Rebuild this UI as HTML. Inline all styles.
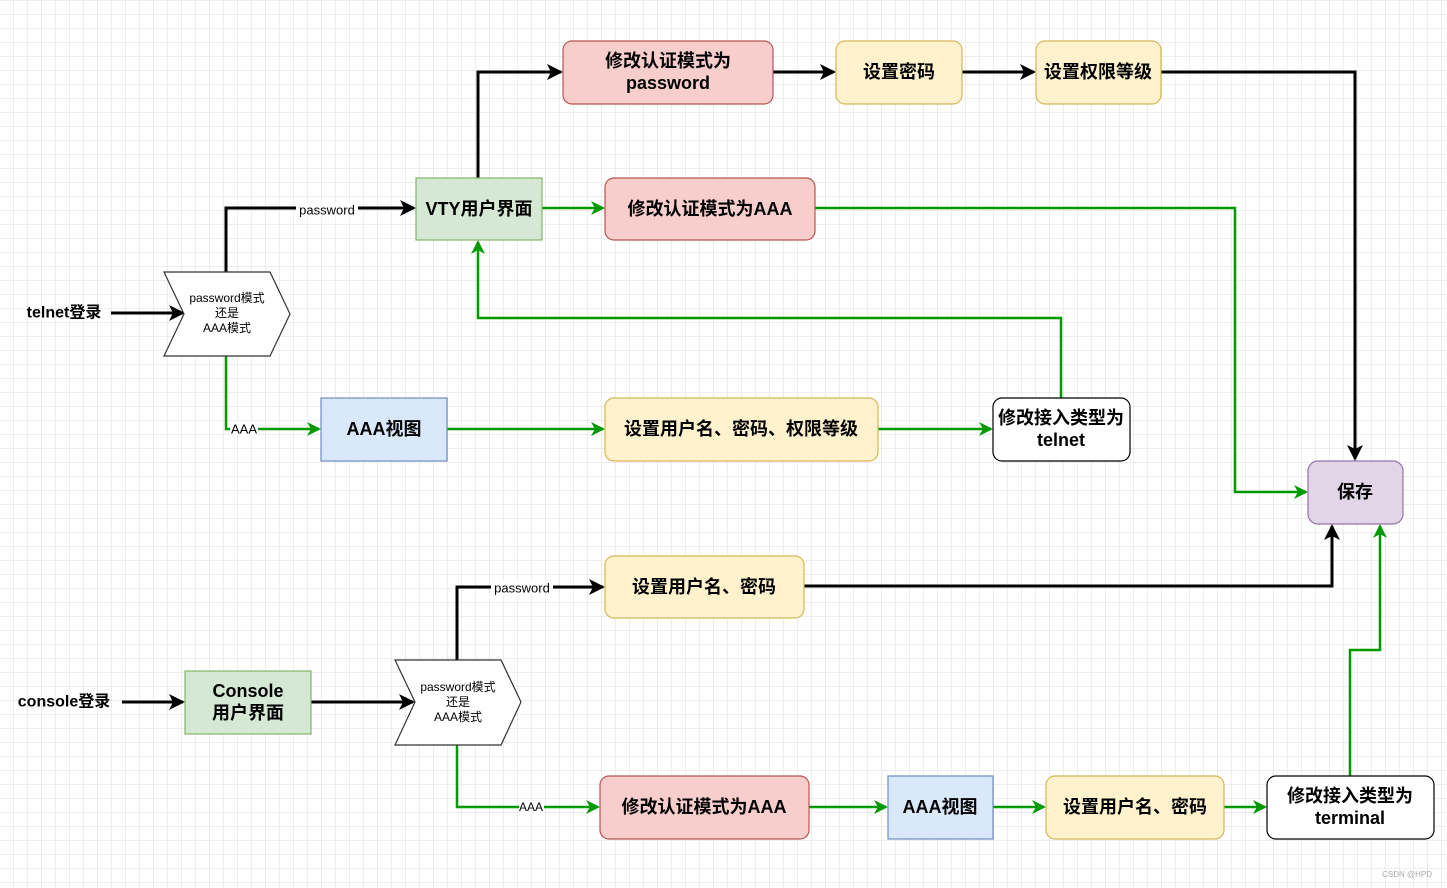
<!DOCTYPE html>
<html><head><meta charset="utf-8"><style>
body{margin:0;background:#fff}
svg{display:block}
text{font-family:"Liberation Sans","Noto Sans CJK SC",sans-serif}
.b{font-size:18px;font-weight:bold;text-anchor:middle;dominant-baseline:central}
.s{font-size:12px;text-anchor:middle;dominant-baseline:central}
.l{font-size:13px;text-anchor:middle;dominant-baseline:central}
</style></head><body>
<svg width="1447" height="888" xmlns="http://www.w3.org/2000/svg">
<defs>
<pattern id="g" width="14" height="14" patternUnits="userSpaceOnUse" x="0" y="1">
<path d="M14 0V14M0 14H14" fill="none" stroke="#dedede" stroke-width="1"/></pattern>
<marker id="ak" markerWidth="16" markerHeight="16" refX="14" refY="8" orient="auto" markerUnits="userSpaceOnUse"><path d="M0,0 L16,8 L0,16 L4,8z" fill="#000"/></marker>
<marker id="ag" markerWidth="14" markerHeight="14" refX="12" refY="7" orient="auto" markerUnits="userSpaceOnUse"><path d="M0,0 L14,7 L0,14 L4,7z" fill="#009900"/></marker>
</defs>
<rect width="1447" height="888" fill="url(#g)"/>
<g fill="none" stroke-width="3" stroke="#000">
<path d="M111 313H183" marker-end="url(#ak)"/>
<path d="M226 272V208H414" marker-end="url(#ak)"/>
<path d="M478 178V72H561" marker-end="url(#ak)"/>
<path d="M773 72H834" marker-end="url(#ak)"/>
<path d="M962 72H1034" marker-end="url(#ak)"/>
<path d="M1161 72H1355V459" marker-end="url(#ak)"/>
<path d="M804 586H1332V526" marker-end="url(#ak)"/>
<path d="M122 702H183" marker-end="url(#ak)"/>
<path d="M311 702H413" marker-end="url(#ak)"/>
<path d="M457 660V587H603" marker-end="url(#ak)"/>
</g>
<g fill="none" stroke-width="2.5" stroke="#009900">
<path d="M226 356V429H319" marker-end="url(#ag)"/>
<path d="M542 208H603" marker-end="url(#ag)"/>
<path d="M815 208H1235V492H1306" marker-end="url(#ag)"/>
<path d="M447 429H603" marker-end="url(#ag)"/>
<path d="M878 429H991" marker-end="url(#ag)"/>
<path d="M1061 398V318H478V242" marker-end="url(#ag)"/>
<path d="M457 745V807H598" marker-end="url(#ag)"/>
<path d="M809 807H886" marker-end="url(#ag)"/>
<path d="M993 807H1044" marker-end="url(#ag)"/>
<path d="M1224 807H1265" marker-end="url(#ag)"/>
<path d="M1350 776V650H1380V526" marker-end="url(#ag)"/>
</g>
<rect x="296" y="203" width="62" height="14" fill="#fff"/><text class="l" x="327" y="210">password</text>
<rect x="230" y="422" width="28" height="14" fill="#fff"/><text class="l" x="244" y="429">AAA</text>
<rect x="491" y="581" width="62" height="14" fill="#fff"/><text class="l" x="522" y="588">password</text>
<rect x="519" y="801" width="25" height="13" fill="#fff"/><text class="s" x="531" y="807">AAA</text>
<text class="b" x="64" y="313" style="font-size:16px">telnet登录</text>
<text class="b" x="64" y="702" style="font-size:16px">console登录</text>
<g stroke-width="1.2">
<rect x="563" y="41" width="210" height="63" rx="9" fill="#f8cecc" stroke="#b85450"/>
<rect x="836" y="41" width="126" height="63" rx="9" fill="#fff2cc" stroke="#d6b656"/>
<rect x="1036" y="41" width="125" height="63" rx="9" fill="#fff2cc" stroke="#d6b656"/>
<rect x="416" y="178" width="126" height="62" fill="#d5e8d4" stroke="#82b366"/>
<rect x="605" y="178" width="210" height="62" rx="9" fill="#f8cecc" stroke="#b85450"/>
<polygon points="164,272 270,272 290,314 270,356 164,356 184,314" fill="#fff" stroke="#333"/>
<rect x="321" y="398" width="126" height="63" fill="#dae8fc" stroke="#6c8ebf"/>
<rect x="605" y="398" width="273" height="63" rx="9" fill="#fff2cc" stroke="#d6b656"/>
<rect x="993" y="398" width="137" height="63" rx="9" fill="#fff" stroke="#000"/>
<rect x="1308" y="461" width="95" height="63" rx="10" fill="#e1d5e7" stroke="#9673a6"/>
<rect x="605" y="556" width="199" height="62" rx="9" fill="#fff2cc" stroke="#d6b656"/>
<rect x="185" y="671" width="126" height="63" fill="#d5e8d4" stroke="#82b366"/>
<polygon points="395,660 501,660 521,702 501,745 395,745 415,702" fill="#fff" stroke="#333"/>
<rect x="600" y="776" width="209" height="63" rx="9" fill="#f8cecc" stroke="#b85450"/>
<rect x="888" y="776" width="105" height="63" fill="#dae8fc" stroke="#6c8ebf"/>
<rect x="1046" y="776" width="178" height="63" rx="9" fill="#fff2cc" stroke="#d6b656"/>
<rect x="1267" y="776" width="167" height="63" rx="9" fill="#fff" stroke="#000"/>
</g>
<text class="b" x="668" y="61">修改认证模式为</text><text class="b" x="668" y="83">password</text>
<text class="b" x="899" y="72">设置密码</text>
<text class="b" x="1098" y="72">设置权限等级</text>
<text class="b" x="479" y="209">VTY用户界面</text>
<text class="b" x="710" y="209">修改认证模式为AAA</text>
<text class="s" x="227" y="298">password模式</text><text class="s" x="227" y="313">还是</text><text class="s" x="227" y="328">AAA模式</text>
<text class="b" x="384" y="429">AAA视图</text>
<text class="b" x="741" y="429">设置用户名、密码、权限等级</text>
<text class="b" x="1061" y="418">修改接入类型为</text><text class="b" x="1061" y="440">telnet</text>
<text class="b" x="1355" y="492">保存</text>
<text class="b" x="704" y="587">设置用户名、密码</text>
<text class="b" x="248" y="691">Console</text><text class="b" x="248" y="713">用户界面</text>
<text class="s" x="458" y="687">password模式</text><text class="s" x="458" y="702">还是</text><text class="s" x="458" y="717">AAA模式</text>
<text class="b" x="704" y="807">修改认证模式为AAA</text>
<text class="b" x="940" y="807">AAA视图</text>
<text class="b" x="1135" y="807">设置用户名、密码</text>
<text class="b" x="1350" y="796">修改接入类型为</text><text class="b" x="1350" y="818">terminal</text>
<text x="1432" y="877" style="font-size:8px;fill:#aaa;text-anchor:end">CSDN @HPD</text>
</svg>
</body></html>
